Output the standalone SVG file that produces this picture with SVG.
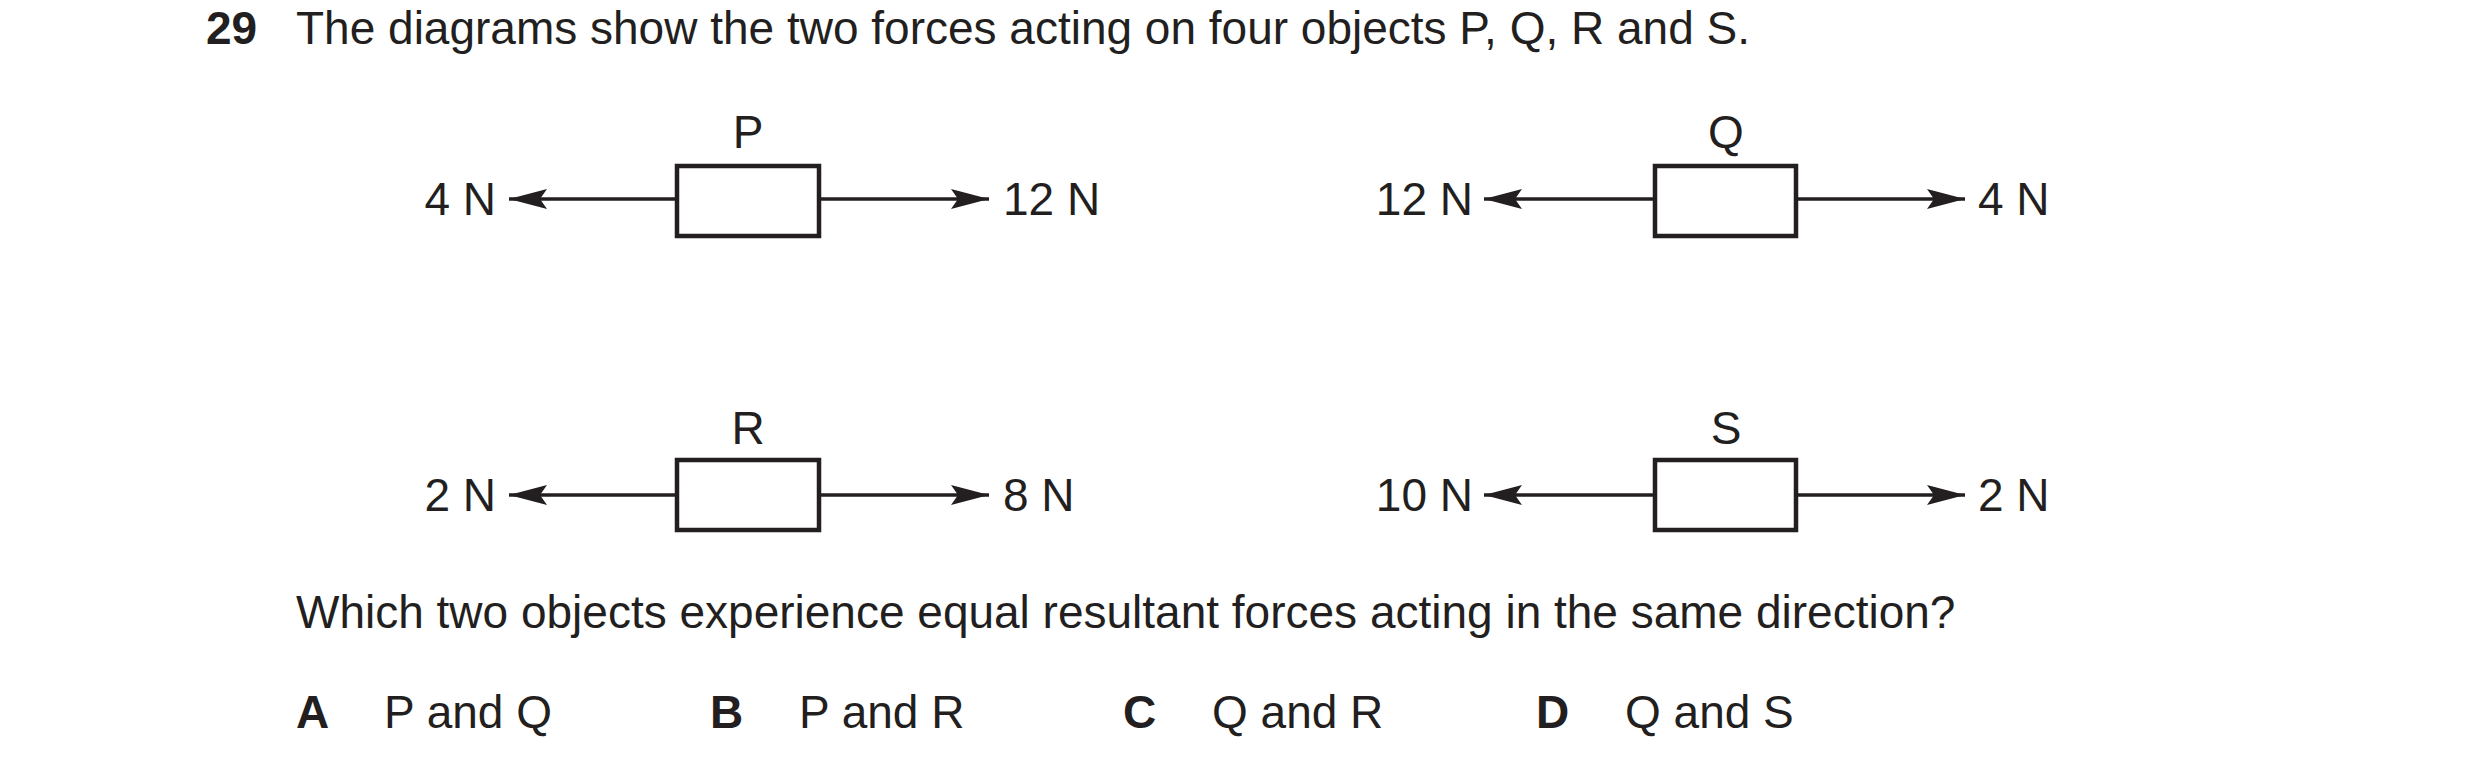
<svg xmlns="http://www.w3.org/2000/svg" width="2480" height="769" viewBox="0 0 2480 769">
<style>
text{font-family:"Liberation Sans",Arial,sans-serif;font-size:46px;fill:#231f20}
.b{font-weight:bold}
.box{fill:#fff;stroke:#231f20;stroke-width:4.5}
.ln{stroke:#231f20;stroke-width:3.5;fill:none;marker-end:url(#ah)}
</style>
<defs><marker id="ah" markerUnits="userSpaceOnUse" markerWidth="40" markerHeight="22" refX="38" refY="11" orient="auto"><path d="M0,1 L38,11 L0,21 L7,11 Z" fill="#231f20"/></marker></defs>
<rect width="2480" height="769" fill="#fff"/>
<text class="b" x="206" y="44">29</text>
<text x="296" y="44">The diagrams show the two forces acting on four objects P, Q, R and S.</text>
<g id="connectors">
<path class="ln" d="M677,199 H509"/><path class="ln" d="M819,199 H989"/>
<path class="ln" d="M1655,199 H1484"/><path class="ln" d="M1796,199 H1965"/>
<path class="ln" d="M677,495 H509"/><path class="ln" d="M819,495 H989"/>
<path class="ln" d="M1655,495 H1484"/><path class="ln" d="M1796,495 H1965"/>
</g>
<g id="P"><text x="748" y="148" text-anchor="middle">P</text><rect class="box" x="677" y="166" width="142" height="70"/><text x="496" y="215" text-anchor="end">4 N</text><text x="1003" y="215">12 N</text></g>
<g id="Q"><text x="1726" y="148" text-anchor="middle">Q</text><rect class="box" x="1655" y="166" width="141" height="70"/><text x="1473" y="215" text-anchor="end">12 N</text><text x="1978" y="215">4 N</text></g>
<g id="R"><text x="748" y="444" text-anchor="middle">R</text><rect class="box" x="677" y="460" width="142" height="70"/><text x="496" y="511" text-anchor="end">2 N</text><text x="1003" y="511">8 N</text></g>
<g id="S"><text x="1726" y="444" text-anchor="middle">S</text><rect class="box" x="1655" y="460" width="141" height="70"/><text x="1473" y="511" text-anchor="end">10 N</text><text x="1978" y="511">2 N</text></g>
<text x="296" y="628">Which two objects experience equal resultant forces acting in the same direction?</text>
<text class="b" x="296" y="728">A</text><text x="384" y="728">P and Q</text>
<text class="b" x="710" y="728">B</text><text x="799" y="728">P and R</text>
<text class="b" x="1123" y="728">C</text><text x="1212" y="728">Q and R</text>
<text class="b" x="1536" y="728">D</text><text x="1625" y="728">Q and S</text>
</svg>
